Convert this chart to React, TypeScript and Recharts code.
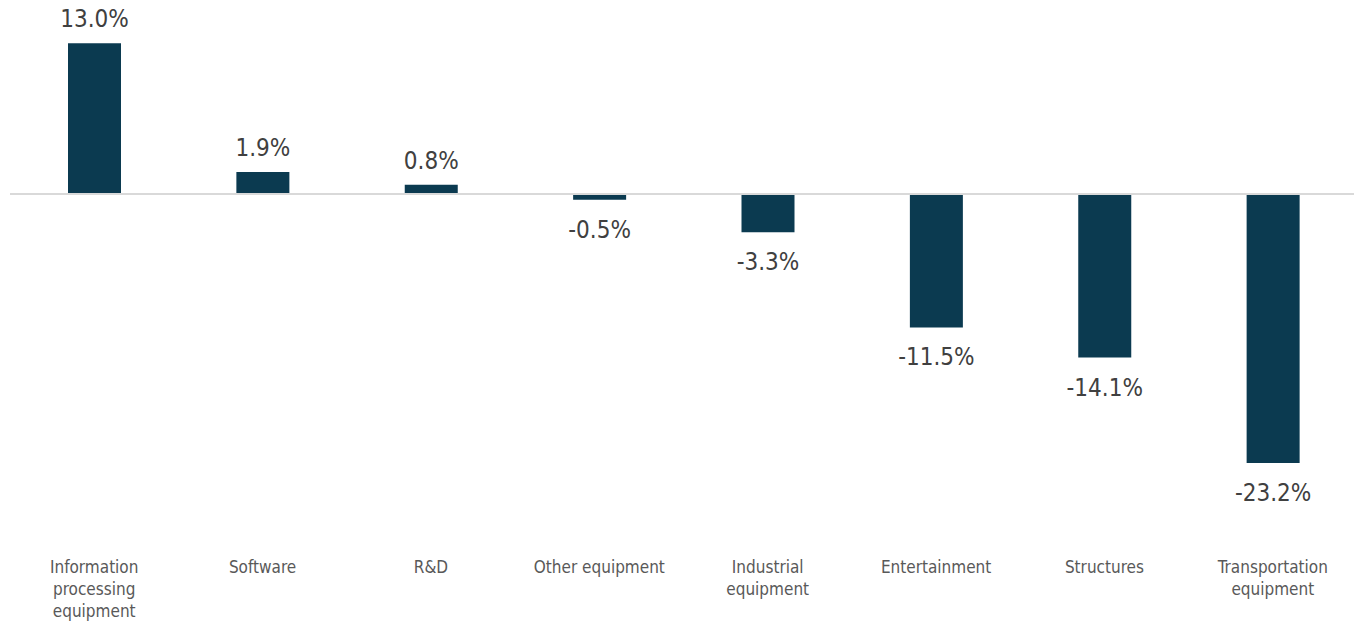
import { Bar, BarChart, LabelList, ReferenceLine, XAxis, YAxis } from "recharts";

const categories = [
  "Information processing equipment",
  "Software",
  "R&D",
  "Other equipment",
  "Industrial equipment",
  "Entertainment",
  "Structures",
  "Transportation equipment",
];

// how each category label breaks into lines
const categoryLines = [
  ["Information", "processing", "equipment"],
  ["Software"],
  ["R&D"],
  ["Other equipment"],
  ["Industrial", "equipment"],
  ["Entertainment"],
  ["Structures"],
  ["Transportation", "equipment"],
];

const growth = [13.0, 1.9, 0.8, -0.5, -3.3, -11.5, -14.1, -23.2];

const data = categories.map((name, i) => ({ name, value: growth[i] }));

const FONT = '"DejaVu Sans Condensed", "DejaVu Sans", sans-serif';

function CategoryTick({ x, y, index }: { x?: number; y?: number; index?: number }) {
  const lines = categoryLines[index ?? 0] ?? [];
  return (
    <text
      x={x}
      y={(y ?? 0) + 23}
      textAnchor="middle"
      fill="#595959"
      fontSize={17}
      fontFamily={FONT}
      style={{ fontStretch: "condensed" }}
    >
      {lines.map((l, i) => (
        <tspan key={i} x={x} dy={i === 0 ? 0 : 22}>
          {l}
        </tspan>
      ))}
    </text>
  );
}

function ValueLabel(props: any) {
  const { x, y, width, height, value } = props;
  const top = Math.min(y, y + height);
  const bottom = Math.max(y, y + height);
  const ty = value >= 0 ? top - 16 : bottom + 38;
  return (
    <text
      x={x + width / 2}
      y={ty}
      textAnchor="middle"
      fill="#404040"
      fontSize={24}
      fontFamily={FONT}
      style={{ fontStretch: "condensed" }}
    >
      {Number(value).toFixed(1)}%
    </text>
  );
}

export default function App() {
  return (
    <div style={{ position: "absolute", left: 0, top: 0, width: 1354, height: 624, background: "#fff" }}>
      <BarChart
        width={1354}
        height={624}
        data={data}
        margin={{ top: 20, right: -3, left: 10, bottom: 0 }}
      >
        <XAxis
          dataKey="name"
          axisLine={false}
          tickLine={false}
          height={82}
          interval={0}
          tick={<CategoryTick />}
        />
        <YAxis hide domain={[-30, 15]} />
        <ReferenceLine y={0} stroke="#d9d9d9" strokeWidth={2} />
        <Bar dataKey="value" fill="#0b3a50" barSize={53} isAnimationActive={false}>
          <LabelList dataKey="value" content={<ValueLabel />} />
        </Bar>
      </BarChart>
    </div>
  );
}
